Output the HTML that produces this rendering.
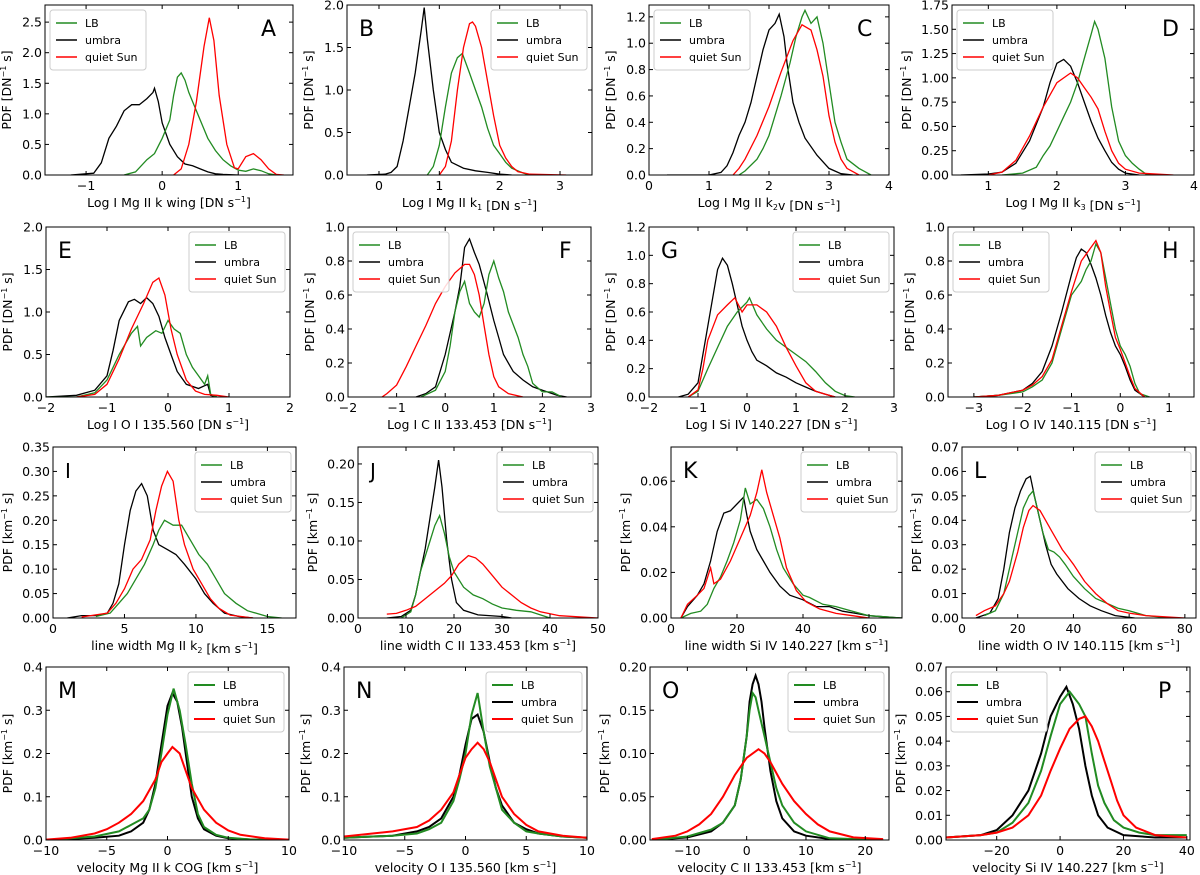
<!DOCTYPE html>
<html><head><meta charset="utf-8"><style>
html,body{margin:0;padding:0;background:#fff;}
svg{display:block;font-family:"DejaVu Sans","Liberation Sans",sans-serif;}
</style></head>
<body>
<svg id="fig" width="1200" height="875" viewBox="0 0 1200 875" xmlns="http://www.w3.org/2000/svg"></svg>
<script>
// ---- data (x, pdf) ----
const A_lb=[[-0.5,0],[-0.35,0.05],[-0.2,0.25],[-0.1,0.35],[0,0.6],[0.1,0.9],[0.15,1.3],[0.2,1.6],[0.25,1.67],[0.3,1.55],[0.35,1.35],[0.4,1.2],[0.5,0.9],[0.6,0.6],[0.7,0.4],[0.8,0.25],[0.9,0.15],[1.0,0.08],[1.1,0.06],[1.2,0.1],[1.3,0.07],[1.4,0.02],[1.5,0]];
const A_um=[[-1.2,0],[-0.9,0.03],[-0.8,0.2],[-0.7,0.6],[-0.6,0.8],[-0.5,1.05],[-0.4,1.15],[-0.3,1.15],[-0.2,1.25],[-0.12,1.35],[-0.1,1.42],[-0.05,1.2],[0,0.85],[0.1,0.5],[0.2,0.3],[0.3,0.18],[0.4,0.15],[0.5,0.1],[0.6,0.05],[0.7,0.02],[0.8,0.01],[1.0,0]];
const A_qs=[[0.15,0],[0.25,0.1],[0.35,0.5],[0.45,1.2],[0.55,2.1],[0.62,2.57],[0.68,2.2],[0.75,1.3],[0.85,0.5],[0.95,0.12],[1.0,0.1],[1.1,0.3],[1.2,0.35],[1.3,0.25],[1.4,0.1],[1.5,0.01],[1.6,0]];
const B_lb=[[0.8,0],[0.9,0.1],[1.0,0.35],[1.1,0.8],[1.2,1.2],[1.3,1.38],[1.38,1.43],[1.5,1.2],[1.6,1.0],[1.7,0.8],[1.8,0.55],[1.9,0.35],[2.0,0.25],[2.1,0.15],[2.2,0.08],[2.4,0.02],[2.5,0]];
const B_um=[[-0.2,0],[0.1,0.01],[0.2,0.03],[0.3,0.1],[0.4,0.4],[0.5,0.8],[0.6,1.2],[0.7,1.7],[0.75,1.97],[0.8,1.6],[0.9,1.0],[1.0,0.5],[1.1,0.3],[1.2,0.15],[1.4,0.08],[1.6,0.05],[1.8,0.03],[2.0,0.01],[2.2,0]];
const B_qs=[[1.0,0],[1.1,0.1],[1.2,0.4],[1.3,1.0],[1.4,1.5],[1.5,1.78],[1.55,1.8],[1.6,1.75],[1.7,1.5],[1.8,1.1],[1.9,0.7],[2.0,0.35],[2.1,0.2],[2.2,0.1],[2.3,0.04],[2.5,0.01],[3.1,0]];
const C_lb=[[1.5,0],[1.6,0.03],[1.8,0.12],[1.9,0.2],[2.0,0.3],[2.2,0.6],[2.35,0.85],[2.45,1.05],[2.55,1.2],[2.6,1.25],[2.7,1.15],[2.8,1.2],[2.9,1.0],[3.0,0.7],[3.1,0.4],[3.2,0.25],[3.3,0.12],[3.5,0.05],[3.7,0]];
const C_um=[[0.3,0],[1.0,0],[1.2,0.02],[1.3,0.07],[1.4,0.17],[1.5,0.3],[1.6,0.4],[1.7,0.55],[1.8,0.75],[1.9,0.95],[2.0,1.1],[2.1,1.15],[2.17,1.22],[2.25,1.05],[2.3,0.85],[2.4,0.55],[2.5,0.4],[2.6,0.28],[2.8,0.15],[3.0,0.05],[3.2,0.01],[3.4,0]];
const C_qs=[[1.4,0],[1.5,0.05],[1.6,0.12],[1.8,0.3],[2.0,0.52],[2.2,0.78],[2.4,1.02],[2.55,1.14],[2.7,1.1],[2.8,0.95],[2.9,0.75],[3.0,0.45],[3.1,0.25],[3.2,0.12],[3.3,0.05],[3.5,0]];
const D_lb=[[1.2,0],[1.5,0.02],[1.7,0.08],[1.8,0.2],[1.9,0.3],[2.0,0.45],[2.1,0.6],[2.2,0.75],[2.3,0.95],[2.4,1.2],[2.5,1.45],[2.55,1.58],[2.6,1.5],[2.7,1.2],[2.8,0.7],[2.9,0.35],[3.0,0.2],[3.1,0.12],[3.2,0.06],[3.3,0.01],[3.4,0]];
const D_um=[[0.6,0],[1.0,0.01],[1.2,0.03],[1.4,0.12],[1.6,0.35],[1.8,0.7],[1.9,0.95],[2.0,1.15],[2.1,1.19],[2.2,1.12],[2.3,0.95],[2.4,0.75],[2.5,0.55],[2.6,0.38],[2.7,0.25],[2.8,0.13],[2.9,0.06],[3.0,0.02],[3.2,0]];
const D_qs=[[1.0,0],[1.2,0.03],[1.4,0.15],[1.6,0.4],[1.8,0.7],[2.0,0.95],[2.2,1.05],[2.3,1.0],[2.4,0.9],[2.5,0.8],[2.6,0.68],[2.7,0.45],[2.8,0.25],[2.9,0.12],[3.0,0.06],[3.2,0.02],[3.7,0]];
const E_lb=[[-2,0],[-1.5,0],[-1.2,0.05],[-1.0,0.2],[-0.9,0.35],[-0.8,0.5],[-0.6,0.75],[-0.5,0.83],[-0.45,0.6],[-0.35,0.7],[-0.2,0.78],[-0.1,0.75],[0,0.9],[0.1,0.8],[0.2,0.75],[0.3,0.5],[0.4,0.35],[0.5,0.25],[0.6,0.15],[0.65,0.25],[0.7,0.03],[0.8,0]];
const E_um=[[-2,0],[-1.5,0.02],[-1.2,0.08],[-1.0,0.25],[-0.9,0.55],[-0.8,0.9],[-0.65,1.12],[-0.55,1.15],[-0.45,1.1],[-0.35,1.17],[-0.25,1.1],[-0.15,0.95],[-0.05,0.7],[0.05,0.5],[0.15,0.3],[0.3,0.15],[0.5,0.1],[0.65,0.15],[0.7,0.02],[0.8,0]];
const E_qs=[[-1.5,0],[-1.2,0.03],[-1.0,0.15],[-0.8,0.45],[-0.6,0.8],[-0.4,1.1],[-0.25,1.35],[-0.15,1.4],[-0.05,1.2],[0.05,0.8],[0.15,0.5],[0.3,0.2],[0.45,0.07],[0.6,0.03],[0.8,0.02],[1.0,0]];
const F_lb=[[-0.5,0],[-0.2,0.04],[0,0.15],[0.1,0.3],[0.2,0.5],[0.3,0.62],[0.4,0.68],[0.5,0.55],[0.6,0.5],[0.7,0.47],[0.8,0.55],[0.9,0.72],[1.0,0.8],[1.1,0.7],[1.2,0.62],[1.3,0.5],[1.5,0.35],[1.6,0.25],[1.7,0.18],[1.8,0.08],[2.0,0.03],[2.2,0.03],[2.4,0]];
const F_um=[[-0.6,0],[-0.4,0.02],[-0.2,0.06],[0,0.25],[0.2,0.5],[0.3,0.65],[0.4,0.88],[0.5,0.93],[0.6,0.85],[0.7,0.78],[0.85,0.62],[1.0,0.45],[1.1,0.35],[1.2,0.25],[1.4,0.15],[1.6,0.1],[1.8,0.06],[2.0,0.04],[2.3,0.01],[2.5,0]];
const F_qs=[[-1.3,0],[-1.2,0.02],[-1.0,0.07],[-0.8,0.18],[-0.6,0.3],[-0.4,0.42],[-0.2,0.55],[0,0.65],[0.2,0.73],[0.4,0.78],[0.5,0.78],[0.6,0.72],[0.7,0.6],[0.8,0.42],[0.9,0.25],[1.0,0.12],[1.1,0.06],[1.3,0.02],[1.6,0]];
const G_lb=[[-1.2,0],[-1.0,0.04],[-0.8,0.2],[-0.6,0.35],[-0.4,0.5],[-0.2,0.6],[0,0.67],[0.05,0.7],[0.2,0.58],[0.4,0.48],[0.6,0.4],[0.8,0.35],[1.0,0.3],[1.2,0.25],[1.4,0.18],[1.6,0.1],[1.8,0.04],[2.0,0.01],[2.2,0]];
const G_um=[[-1.4,0],[-1.2,0.02],[-1.0,0.1],[-0.9,0.3],[-0.8,0.5],[-0.7,0.7],[-0.6,0.9],[-0.5,0.98],[-0.4,0.93],[-0.3,0.8],[-0.2,0.65],[-0.1,0.5],[0,0.4],[0.1,0.32],[0.2,0.26],[0.4,0.22],[0.6,0.17],[0.8,0.14],[1.0,0.1],[1.2,0.07],[1.4,0.04],[1.6,0.02],[1.8,0]];
const G_qs=[[-1.2,0],[-1.0,0.05],[-0.9,0.2],[-0.8,0.4],[-0.6,0.58],[-0.4,0.65],[-0.25,0.7],[-0.1,0.6],[0,0.65],[0.2,0.65],[0.4,0.6],[0.6,0.5],[0.8,0.35],[1.0,0.22],[1.2,0.1],[1.4,0.04],[1.6,0.02],[1.8,0]];
const H_lb=[[-3,0],[-2.5,0.01],[-2,0.03],[-1.8,0.06],[-1.6,0.1],[-1.4,0.2],[-1.2,0.4],[-1.0,0.6],[-0.8,0.68],[-0.7,0.75],[-0.6,0.8],[-0.5,0.9],[-0.4,0.85],[-0.3,0.7],[-0.2,0.55],[-0.1,0.4],[0,0.3],[0.1,0.25],[0.2,0.18],[0.3,0.08],[0.4,0.02],[0.6,0]];
const H_um=[[-3,0],[-2.5,0.01],[-2,0.04],[-1.8,0.08],[-1.6,0.15],[-1.4,0.3],[-1.2,0.5],[-1.0,0.72],[-0.9,0.82],[-0.8,0.87],[-0.7,0.85],[-0.6,0.78],[-0.5,0.7],[-0.4,0.6],[-0.3,0.48],[-0.2,0.38],[-0.1,0.3],[0,0.25],[0.1,0.18],[0.2,0.1],[0.3,0.04],[0.5,0]];
const H_qs=[[-3,0],[-2.5,0.01],[-2,0.04],[-1.8,0.07],[-1.6,0.12],[-1.4,0.22],[-1.2,0.42],[-1.0,0.62],[-0.8,0.8],[-0.7,0.84],[-0.6,0.88],[-0.5,0.92],[-0.4,0.85],[-0.3,0.65],[-0.2,0.5],[-0.1,0.35],[0,0.28],[0.1,0.2],[0.2,0.12],[0.3,0.05],[0.5,0]];
const I_lb=[[3,0.003],[4,0.01],[4.6,0.03],[5.2,0.05],[5.8,0.08],[6.4,0.11],[7,0.15],[7.4,0.18],[7.8,0.2],[8.4,0.19],[9,0.19],[9.6,0.16],[10.2,0.13],[10.8,0.11],[11.4,0.08],[12,0.05],[12.8,0.03],[13.6,0.015],[15,0.003],[16,0]];
const I_um=[[1,0],[2,0.005],[3,0.005],[3.8,0.01],[4.2,0.03],[4.6,0.07],[5,0.15],[5.4,0.22],[5.8,0.26],[6.2,0.275],[6.6,0.25],[7,0.18],[7.4,0.15],[8,0.14],[8.6,0.13],[9.2,0.11],[10,0.08],[10.6,0.05],[11.2,0.03],[12,0.01],[13,0.003],[14,0]];
const I_qs=[[2,0.002],[3.8,0.01],[4.4,0.03],[5,0.06],[5.6,0.1],[6.2,0.12],[6.8,0.16],[7.2,0.22],[7.6,0.27],[8,0.3],[8.4,0.28],[8.8,0.2],[9.2,0.15],[9.8,0.1],[10.4,0.07],[11,0.04],[11.6,0.02],[12.4,0.006],[14,0]];
const J_lb=[[9,0],[11,0.008],[12,0.03],[13,0.06],[14,0.08],[15,0.1],[16,0.12],[17,0.133],[18,0.11],[19,0.08],[20,0.06],[22,0.04],[24,0.03],[26,0.025],[28,0.018],[30,0.013],[33,0.01],[36,0.008],[38,0.004],[40,0]];
const J_um=[[6,0],[9,0.002],[11,0.01],[12,0.03],[13,0.06],[14,0.09],[15,0.13],[16,0.17],[16.8,0.205],[17.5,0.17],[18.5,0.1],[19.5,0.05],[20.5,0.02],[22,0.01],[25,0.004],[30,0.002],[32,0]];
const J_qs=[[6,0.005],[8,0.006],[10,0.01],[12,0.015],[14,0.025],[16,0.035],[18,0.045],[19.5,0.055],[21,0.07],[23,0.081],[24.5,0.078],[26,0.07],[28,0.055],[30,0.04],[32,0.03],[34,0.02],[36,0.013],[38,0.008],[42,0.003],[50,0]];
const K_lb=[[3,0],[6,0.002],[9,0.003],[11,0.006],[13,0.013],[15,0.018],[17,0.025],[19,0.033],[21,0.043],[22.5,0.057],[24,0.05],[26,0.052],[28,0.048],[30,0.04],[32,0.03],[34,0.022],[37,0.015],[40,0.01],[42,0.009],[46,0.006],[50,0.005],[55,0.003],[60,0.001],[70,0]];
const K_um=[[3,0],[5,0.005],[8,0.01],[10,0.015],[12,0.025],[14,0.038],[16,0.046],[18,0.047],[20,0.05],[22,0.053],[23,0.045],[24,0.038],[26,0.03],[28,0.025],[30,0.02],[33,0.014],[36,0.01],[40,0.008],[44,0.005],[48,0.005],[52,0.003],[56,0.002],[60,0.001],[70,0]];
const K_qs=[[3,0],[5,0.006],[8,0.01],[10,0.013],[12,0.022],[13,0.015],[15,0.017],[18,0.025],[21,0.035],[24,0.045],[26,0.055],[27.5,0.065],[29,0.055],[31,0.045],[33,0.035],[35,0.022],[38,0.012],[41,0.007],[45,0.004],[50,0.002],[55,0.001],[60,0]];
const L_lb=[[8,0.001],[12,0.003],[15,0.01],[18,0.025],[20,0.035],[22,0.045],[24,0.05],[25.5,0.052],[27,0.045],[29,0.035],[31,0.028],[33,0.027],[35,0.025],[37,0.022],[40,0.017],[44,0.012],[48,0.008],[52,0.006],[56,0.004],[60,0.003],[66,0.001],[75,0]];
const L_um=[[5,0],[10,0.002],[13,0.008],[15,0.02],[17,0.035],[19,0.045],[21,0.052],[23,0.057],[24.5,0.058],[26,0.05],[28,0.04],[30,0.03],[32,0.022],[34,0.018],[38,0.012],[42,0.008],[46,0.005],[50,0.003],[55,0.001],[62,0]];
const L_qs=[[5,0.001],[8,0.003],[12,0.005],[15,0.01],[17,0.015],[20,0.027],[22,0.037],[24,0.044],[25.5,0.046],[28,0.044],[30,0.04],[32,0.036],[34,0.032],[36,0.028],[38,0.025],[40,0.022],[44,0.015],[48,0.01],[52,0.006],[56,0.003],[60,0.002],[66,0.001],[80,0]];
const M_lb=[[-10,0],[-6,0.008],[-4,0.02],[-3,0.035],[-2,0.05],[-1.5,0.07],[-1,0.12],[-0.5,0.2],[0,0.29],[0.5,0.35],[1,0.3],[1.5,0.22],[2,0.13],[2.5,0.06],[3,0.03],[4,0.012],[5,0.005],[7,0.001],[10,0]];
const M_um=[[-10,0],[-6,0.005],[-4,0.01],[-3,0.02],[-2,0.04],[-1.5,0.07],[-1,0.13],[-0.5,0.22],[0,0.31],[0.4,0.34],[0.8,0.32],[1.2,0.26],[1.6,0.18],[2,0.1],[2.5,0.05],[3,0.025],[4,0.01],[5,0.004],[7,0.001],[10,0]];
const M_qs=[[-10,0.001],[-8,0.005],[-6,0.015],[-5,0.025],[-4,0.04],[-3,0.06],[-2,0.09],[-1,0.14],[-0.5,0.18],[0,0.2],[0.4,0.215],[1,0.2],[1.5,0.16],[2,0.12],[3,0.07],[4,0.04],[5,0.022],[6,0.012],[8,0.004],[10,0.001]];
const N_lb=[[-10,0.005],[-6,0.01],[-4,0.015],[-3,0.025],[-2,0.04],[-1,0.09],[-0.5,0.14],[0,0.2],[0.5,0.29],[1,0.34],[1.5,0.25],[2,0.17],[2.5,0.12],[3,0.07],[4,0.04],[5,0.02],[6,0.015],[8,0.008],[10,0.005]];
const N_um=[[-10,0.005],[-6,0.01],[-4,0.02],[-3,0.03],[-2,0.05],[-1,0.1],[-0.5,0.15],[0,0.22],[0.5,0.28],[1,0.29],[1.5,0.25],[2,0.18],[2.5,0.12],[3,0.08],[4,0.04],[5,0.025],[6,0.015],[8,0.008],[10,0.005]];
const N_qs=[[-10,0.008],[-6,0.02],[-4,0.03],[-3,0.045],[-2,0.07],[-1,0.11],[-0.5,0.15],[0,0.19],[0.5,0.21],[1,0.225],[1.5,0.21],[2,0.18],[2.5,0.14],[3,0.1],[4,0.06],[5,0.035],[6,0.02],[8,0.01],[10,0.005]];
const O_lb=[[-16,0],[-10,0.004],[-6,0.012],[-4,0.02],[-2,0.04],[-1,0.07],[0,0.12],[0.5,0.15],[1,0.17],[1.5,0.165],[2,0.15],[3,0.12],[4,0.09],[5,0.06],[6,0.04],[8,0.02],[10,0.01],[14,0.002],[23,0]];
const O_um=[[-16,0],[-10,0.003],[-6,0.01],[-4,0.02],[-2,0.04],[-1,0.07],[0,0.12],[0.5,0.16],[1,0.18],[1.5,0.19],[2,0.18],[2.5,0.16],[3,0.13],[4,0.08],[5,0.045],[6,0.025],[8,0.01],[10,0.005],[14,0.001],[23,0]];
const O_qs=[[-16,0.001],[-12,0.005],[-10,0.01],[-8,0.018],[-6,0.03],[-4,0.05],[-2,0.075],[0,0.095],[2,0.105],[3,0.1],[4,0.09],[6,0.065],[8,0.045],[10,0.03],[12,0.018],[14,0.01],[18,0.003],[23,0.001]];
const P_lb=[[-36,0.001],[-25,0.002],[-20,0.003],[-15,0.007],[-10,0.015],[-6,0.028],[-3,0.042],[0,0.055],[3,0.06],[6,0.055],[8,0.05],[10,0.035],[12,0.022],[14,0.015],[17,0.008],[20,0.005],[25,0.003],[30,0.002],[40,0.002]];
const P_um=[[-36,0.001],[-25,0.002],[-20,0.004],[-15,0.01],[-10,0.02],[-6,0.035],[-3,0.05],[0,0.058],[2,0.062],[4,0.055],[6,0.045],[8,0.03],[10,0.018],[12,0.01],[15,0.005],[20,0.002],[30,0.001],[40,0.001]];
const P_qs=[[-36,0.001],[-25,0.002],[-20,0.003],[-15,0.005],[-10,0.01],[-6,0.018],[-3,0.028],[0,0.037],[3,0.045],[6,0.049],[8,0.05],[10,0.046],[12,0.04],[14,0.032],[16,0.024],[18,0.016],[20,0.01],[24,0.005],[30,0.002],[40,0.001]];

// ---- tick labels ----
const A_xt=[-1,0,1], A_yt=[0,0.5,1,1.5,2,2.5];
const B_xt=[0,1,2,3], B_yt=[0,0.5,1,1.5,2];
const C_xt=[0,1,2,3,4], C_yt=[0,0.2,0.4,0.6,0.8,1.0,1.2];
const D_xt=[1,2,3,4], D_yt=[0,0.25,0.5,0.75,1,1.25,1.5,1.75];
const E_xt=[-2,-1,0,1,2], E_yt=[0,0.5,1,1.5,2];
const F_xt=[-2,-1,0,1,2,3], F_yt=[0,0.2,0.4,0.6,0.8,1.0];
const G_xt=[-2,-1,0,1,2,3], G_yt=[0,0.2,0.4,0.6,0.8,1.0,1.2];
const H_xt=[-3,-2,-1,0,1], H_yt=[0,0.2,0.4,0.6,0.8,1.0];
const I_xt=[0,5,10,15], I_yt=[0,0.05,0.1,0.15,0.2,0.25,0.3,0.35];
const J_xt=[0,10,20,30,40,50], J_yt=[0,0.05,0.1,0.15,0.2];
const K_xt=[0,20,40,60], K_yt=[0,0.02,0.04,0.06];
const L_xt=[0,20,40,60,80], L_yt=[0,0.01,0.02,0.03,0.04,0.05,0.06,0.07];
const M_xt=[-10,-5,0,5,10], M_yt=[0,0.1,0.2,0.3,0.4];
const N_xt=[-10,-5,0,5,10], N_yt=[0,0.1,0.2,0.3,0.4];
const O_xt=[-10,0,10,20], O_yt=[0,0.05,0.1,0.15,0.2];
const P_xt=[-20,0,20,40], P_yt=[0,0.01,0.02,0.03,0.04,0.05,0.06,0.07];

const SUP='<tspan dy="-5" font-size="8">−1</tspan><tspan dy="5">]</tspan>';
const DNY='PDF [DN'+'<tspan dy="-5" font-size="8">−1</tspan><tspan dy="5"> s]</tspan>';
const KMY='PDF [km'+'<tspan dy="-5" font-size="8">−1</tspan><tspan dy="5"> s]</tspan>';
const sub=s=>'<tspan dy="3" font-size="8">'+s+'</tspan><tspan dy="-3"></tspan>';

const panels=[
 {id:'A',box:[45,5,293,175],xr:[-1.54,1.72],yr:[0,2.78],xt:A_xt,yt:A_yt,yd:1,lb:A_lb,um:A_um,qs:A_qs,leg:'ul',xl:'Log I Mg II k wing [DN s'+SUP,yl:DNY},
 {id:'B',box:[347,5,592,175],xr:[-0.53,3.53],yr:[0,2.0],xt:B_xt,yt:B_yt,yd:1,lb:B_lb,um:B_um,qs:B_qs,leg:'ur',xl:'Log I Mg II k'+sub('1')+' [DN s'+SUP,yl:DNY},
 {id:'C',box:[649,5,889,175],xr:[0,4],yr:[0,1.29],xt:C_xt,yt:C_yt,yd:1,lb:C_lb,um:C_um,qs:C_qs,leg:'ul',xl:'Log I Mg II k'+sub('2')+'v [DN s'+SUP,yl:DNY},
 {id:'D',box:[952,5,1194,175],xr:[0.47,4.0],yr:[0,1.75],xt:D_xt,yt:D_yt,yd:2,lb:D_lb,um:D_um,qs:D_qs,leg:'ul',xl:'Log I Mg II k'+sub('3')+' [DN s'+SUP,yl:DNY},
 {id:'E',box:[46,227,290,397],xr:[-2,2],yr:[0,2],xt:E_xt,yt:E_yt,yd:1,lb:E_lb,um:E_um,qs:E_qs,leg:'ur',xl:'Log I O I 135.560 [DN s'+SUP,yl:DNY},
 {id:'F',box:[348,227,591,397],xr:[-2,3],yr:[0,1],xt:F_xt,yt:F_yt,yd:1,lb:F_lb,um:F_um,qs:F_qs,leg:'ul',xl:'Log I C II 133.453 [DN s'+SUP,yl:DNY},
 {id:'G',box:[649,227,894,397],xr:[-2,3],yr:[0,1.2],xt:G_xt,yt:G_yt,yd:1,lb:G_lb,um:G_um,qs:G_qs,leg:'ur',xl:'Log I Si IV 140.227 [DN s'+SUP,yl:DNY},
 {id:'H',box:[948,227,1194,397],xr:[-3.53,1.51],yr:[0,1],xt:H_xt,yt:H_yt,yd:1,lb:H_lb,um:H_um,qs:H_qs,leg:'ul',xl:'Log I O IV 140.115 [DN s'+SUP,yl:DNY},
 {id:'I',box:[53,447,296,618],xr:[0,17],yr:[0,0.35],xt:I_xt,yt:I_yt,yd:2,lb:I_lb,um:I_um,qs:I_qs,leg:'ur',xl:'line width Mg II k'+sub('2')+' [km s'+SUP,yl:KMY},
 {id:'J',box:[358,447,598,618],xr:[0,50],yr:[0,0.222],xt:J_xt,yt:J_yt,yd:2,lb:J_lb,um:J_um,qs:J_qs,leg:'ur',xl:'line width C II 133.453 [km s'+SUP,yl:KMY},
 {id:'K',box:[671,447,902,618],xr:[0,70],yr:[0,0.075],xt:K_xt,yt:K_yt,yd:2,lb:K_lb,um:K_um,qs:K_qs,leg:'ur',xl:'line width Si IV 140.227 [km s'+SUP,yl:KMY},
 {id:'L',box:[962,447,1196,618],xr:[0,84],yr:[0,0.07],xt:L_xt,yt:L_yt,yd:2,lb:L_lb,um:L_um,qs:L_qs,leg:'ur',xl:'line width O IV 140.115 [km s'+SUP,yl:KMY},
 {id:'M',box:[46,667,289,840],xr:[-10,10],yr:[0,0.4],xt:M_xt,yt:M_yt,yd:1,lb:M_lb,um:M_um,qs:M_qs,leg:'ur',xl:'velocity Mg II k COG  [km s'+SUP,yl:KMY,lw:2},
 {id:'N',box:[344,667,587,840],xr:[-10,10],yr:[0,0.4],xt:N_xt,yt:N_yt,yd:1,lb:N_lb,um:N_um,qs:N_qs,leg:'ur',xl:'velocity O I 135.560  [km s'+SUP,yl:KMY,lw:2},
 {id:'O',box:[650,667,889,840],xr:[-16.3,24],yr:[0,0.2],xt:O_xt,yt:O_yt,yd:2,lb:O_lb,um:O_um,qs:O_qs,leg:'ur',xl:'velocity C II 133.453  [km s'+SUP,yl:KMY,lw:2},
 {id:'P',box:[946,667,1190,840],xr:[-36,41],yr:[0,0.07],xt:P_xt,yt:P_yt,yd:2,lb:P_lb,um:P_um,qs:P_qs,leg:'ul',xl:'velocity Si IV 140.227  [km s'+SUP,yl:KMY,lw:2}
];

const NS='http://www.w3.org/2000/svg';
const svg=document.getElementById('fig');
function el(tag,attrs,parent){const e=document.createElementNS(NS,tag);for(const k in attrs)e.setAttribute(k,attrs[k]);(parent||svg).appendChild(e);return e;}
const COL={lb:'#228b22',um:'#000000',qs:'#ff0000'};
const NAMES={lb:'LB',um:'umbra',qs:'quiet Sun'};

panels.forEach(p=>{
 const [l,t,r,b]=p.box;
 const g=el('g',{});
 
 
 const sx=v=>l+(v-p.xr[0])/(p.xr[1]-p.xr[0])*(r-l);
 const sy=v=>b-(v-p.yr[0])/(p.yr[1]-p.yr[0])*(b-t);
 const clipId='clip'+p.id;
 const cp=el('clipPath',{id:clipId},g); el('rect',{x:l,y:t,width:r-l,height:b-t},cp);
 ['um','lb','qs'].forEach(k=>{
  const pts=p[k].map(d=>sx(d[0]).toFixed(1)+','+sy(d[1]).toFixed(1)).join(' ');
  const pl=el('polyline',{points:pts,fill:'none',stroke:COL[k],'stroke-width':p.lw||1.3,'stroke-linejoin':'miter','clip-path':'url(#'+clipId+')'},g);
  
  
 });
 const fr=el('rect',{x:l,y:t,width:r-l,height:b-t,fill:'none',stroke:'#000','stroke-width':1},g);
 
 
 p.xt.forEach(v=>{
  const x=sx(v);
  el('line',{x1:x,y1:b,x2:x,y2:b-4,stroke:'#000'},g);
  el('line',{x1:x,y1:t,x2:x,y2:t+4,stroke:'#000'},g);
  const tx=el('text',{x:x,y:b+15,'font-size':12.5,'text-anchor':'middle'},g);
  tx.textContent=(v<0?'−'+Math.abs(v):String(v));
  
  
 });
 p.yt.forEach(v=>{
  const y=sy(v);
  el('line',{x1:l,y1:y,x2:l+4,y2:y,stroke:'#000'},g);
  el('line',{x1:r,y1:y,x2:r-4,y2:y,stroke:'#000'},g);
  const ty=el('text',{x:l-3,y:y+4.5,'font-size':12.5,'text-anchor':'end'},g);
  ty.textContent=v.toFixed(p.yd);
  
  
 });
 const xl=el('text',{x:(l+r)/2,y:b+32,'font-size':12.5,'text-anchor':'middle'},g);
 xl.innerHTML=p.xl;
 
 
 const ylx=l-(p.yd===2?41:34), yly=(t+b)/2;
 const yl=el('text',{x:ylx,y:yly,'font-size':12.5,'text-anchor':'middle',transform:'rotate(-90 '+ylx+' '+yly+')'},g);
 yl.innerHTML=p.yl;
 
 
 const lw=96, lh=60;
 const lx=p.leg==='ul'?l+5:r-5-lw, ly=t+5;
 const lg=el('g',{},g);
 
 
 el('rect',{x:lx,y:ly,width:lw,height:lh,rx:3,fill:'#fff','fill-opacity':0.85,stroke:'#cccccc'},lg);
 ['lb','um','qs'].forEach((k,i)=>{
  const yy=ly+13+i*17;
  el('line',{x1:lx+6,y1:yy,x2:lx+27,y2:yy,stroke:COL[k],'stroke-width':p.lw||1.5},lg);
  const et=el('text',{x:lx+35,y:yy+4,'font-size':11},lg);
  et.textContent=NAMES[k];
  
  
 });
 const lx2=p.leg==='ul'?r-32:l+12;
 const pl=el('text',{x:lx2,y:t+31,'font-size':p.id==='I'||p.id==='J'?20:22},g);
 pl.textContent=p.id;
 
 
});
</script>
</body></html>
